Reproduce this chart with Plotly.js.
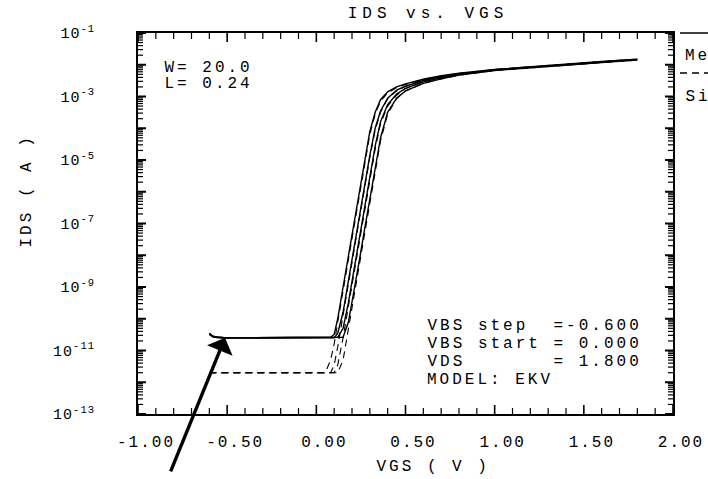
<!DOCTYPE html>
<html>
<head>
<meta charset="utf-8">
<script src="https://cdn.plot.ly/plotly-3.0.1.min.js"></script>
<style>
  html, body { margin: 0; padding: 0; background: #fff; }
  #chart { width: 708px; height: 479px; }
  .main-svg text { letter-spacing: 3px; }
  .main-svg .gtitle { letter-spacing: 5px; }
  .main-svg .xtick text { letter-spacing: 2px; }
  .main-svg .ytick text { letter-spacing: 1px; }
</style>
</head>
<body>
<div id="chart"></div>
<script>
// ---- data ----
const vgs = [-0.60,-0.58,-0.55,-0.50,-0.40,-0.30,-0.20,-0.10,0.00,0.05,0.08,0.10,
             0.12,0.15,0.18,0.21,0.24,0.27,0.30,0.33,0.36,0.40,0.45,0.50,
             0.60,0.70,0.80,1.00,1.20,1.40,1.60,1.80];

// measured IDS (A), VBS = 0, -0.6, -1.2, -1.8
const idsMeas0 = [3.5e-11,2.8e-11,2.6e-11,2.5e-11,2.5e-11,2.5e-11,2.5e-11,2.5e-11,2.5e-11,2.5e-11,2.6e-11,3.2e-11,
                  1.0e-10,1.0e-9,1.0e-8,1.0e-7,1.0e-6,1.0e-5,7.9e-5,3.2e-4,7.9e-4,1.4e-3,2.0e-3,2.5e-3,
                  3.5e-3,4.5e-3,5.4e-3,7.1e-3,8.7e-3,1.05e-2,1.26e-2,1.5e-2];
const idsMeas1 = [3.4e-11,2.8e-11,2.6e-11,2.5e-11,2.5e-11,2.5e-11,2.5e-11,2.5e-11,2.5e-11,2.5e-11,2.5e-11,2.5e-11,
                  3.5e-11,1.6e-10,1.6e-9,1.6e-8,1.6e-7,1.6e-6,1.4e-5,1.0e-4,3.5e-4,8.9e-4,1.6e-3,2.1e-3,
                  3.2e-3,4.2e-3,5.1e-3,6.9e-3,8.5e-3,1.02e-2,1.23e-2,1.48e-2];
const idsMeas2 = [3.3e-11,2.7e-11,2.6e-11,2.5e-11,2.5e-11,2.5e-11,2.5e-11,2.5e-11,2.5e-11,2.5e-11,2.5e-11,2.5e-11,
                  2.6e-11,5.0e-11,3.2e-10,3.2e-9,3.2e-8,3.2e-7,3.2e-6,2.8e-5,1.6e-4,5.6e-4,1.2e-3,1.8e-3,
                  2.9e-3,3.9e-3,4.9e-3,6.8e-3,8.3e-3,1.0e-2,1.2e-2,1.45e-2];
const idsMeas3 = [3.2e-11,2.7e-11,2.5e-11,2.5e-11,2.5e-11,2.5e-11,2.5e-11,2.5e-11,2.5e-11,2.5e-11,2.5e-11,2.5e-11,
                  2.5e-11,2.6e-11,7.9e-11,6.3e-10,6.3e-9,6.3e-8,6.3e-7,6.3e-6,5.0e-5,3.2e-4,8.9e-4,1.5e-3,
                  2.6e-3,3.6e-3,4.7e-3,6.6e-3,8.1e-3,9.8e-3,1.17e-2,1.41e-2];

// simulated IDS (A)
const idsSim0 = [2.0e-12,2.0e-12,2.0e-12,2.0e-12,2.0e-12,2.0e-12,2.0e-12,2.0e-12,2.0e-12,2.0e-12,5.0e-12,1.6e-11,
                 7.9e-11,7.9e-10,7.9e-9,7.9e-8,7.9e-7,7.9e-6,6.3e-5,2.8e-4,7.1e-4,1.3e-3,1.9e-3,2.4e-3,
                 3.5e-3,4.4e-3,5.3e-3,7.1e-3,8.7e-3,1.05e-2,1.26e-2,1.5e-2];
const idsSim1 = [2.0e-12,2.0e-12,2.0e-12,2.0e-12,2.0e-12,2.0e-12,2.0e-12,2.0e-12,2.0e-12,2.0e-12,2.0e-12,3.5e-12,
                 1.3e-11,1.3e-10,1.3e-9,1.3e-8,1.3e-7,1.3e-6,1.2e-5,8.9e-5,3.2e-4,8.5e-4,1.5e-3,2.1e-3,
                 3.2e-3,4.2e-3,5.1e-3,6.9e-3,8.5e-3,1.02e-2,1.23e-2,1.48e-2];
const idsSim2 = [2.0e-12,2.0e-12,2.0e-12,2.0e-12,2.0e-12,2.0e-12,2.0e-12,2.0e-12,2.0e-12,2.0e-12,2.0e-12,2.0e-12,
                 3.5e-12,2.5e-11,2.5e-10,2.5e-9,2.5e-8,2.5e-7,2.5e-6,2.2e-5,1.4e-4,5.0e-4,1.1e-3,1.8e-3,
                 2.9e-3,3.9e-3,4.9e-3,6.8e-3,8.3e-3,1.0e-2,1.2e-2,1.45e-2];
const idsSim3 = [2.0e-12,2.0e-12,2.0e-12,2.0e-12,2.0e-12,2.0e-12,2.0e-12,2.0e-12,2.0e-12,2.0e-12,2.0e-12,2.0e-12,
                 2.0e-12,5.0e-12,5.0e-11,5.0e-10,5.0e-9,5.0e-8,5.0e-7,5.0e-6,4.0e-5,2.8e-4,8.5e-4,1.5e-3,
                 2.6e-3,3.6e-3,4.7e-3,6.6e-3,8.1e-3,9.8e-3,1.17e-2,1.41e-2];

const xTickVals = [-1.0,-0.5,0.0,0.5,1.0,1.5,2.0];
const xTickText = ["-1.00","-0.50","0.00","0.50","1.00","1.50","2.00"];
const yTickVals = [1e-13,1e-12,1e-11,1e-10,1e-9,1e-8,1e-7,1e-6,1e-5,1e-4,1e-3,1e-2,1e-1];
const yTickText = ["10<sup>-13</sup>","","10<sup>-11</sup>","","10<sup>-9</sup>","","10<sup>-7</sup>","",
                   "10<sup>-5</sup>","","10<sup>-3</sup>","","10<sup>-1</sup>"];

const infoLines = ["VBS step\u00a0\u00a0=-0.600", "VBS start\u00a0=\u00a00.000",
                   "VDS\u00a0\u00a0\u00a0\u00a0\u00a0\u00a0\u00a0=\u00a01.800", "MODEL:\u00a0EKV"];
const sizeLines = ["W=\u00a020.0", "L=\u00a00.24"];
const legendNames = ["Measured", "Simulated"];

// ---- build ----
const FONT = "Liberation Mono, DejaVu Sans Mono, monospace";
const LS = 3; // CSS letter-spacing applied to annotation text
const PL = 138, PW = 535, PB = 414, PH = 381;
const px2x = (px) => (px - PL) / PW;
const px2y = (py) => (PB - py) / PH;
// left-anchored text: compensate for letter-spacing not being measured by the layout
const leftX = (px, txt) => px2x(px + txt.length * LS / 2);

const measSets = [idsMeas0, idsMeas1, idsMeas2, idsMeas3];
const simSets = [idsSim0, idsSim1, idsSim2, idsSim3];
const traces = [];
measSets.forEach(ys => traces.push({
  x: vgs, y: ys, type: 'scatter', mode: 'lines',
  line: {color: '#000', width: 1.4}, showlegend: false, hoverinfo: 'skip'
}));
simSets.forEach(ys => traces.push({
  x: vgs, y: ys, type: 'scatter', mode: 'lines',
  line: {color: '#000', width: 1.1, dash: '7px,5px'}, showlegend: false, hoverinfo: 'skip'
}));

// ---- inside tick marks on all four sides, drawn as line segments on the axes ----
const XPX = 3 / PW;      // VGS per pixel
const YDEC = 12 / PH;    // decades per pixel
function tickTrace(xs, ys, w) {
  return {x: xs, y: ys, type: 'scatter', mode: 'lines', line: {color: '#000', width: w},
          showlegend: false, hoverinfo: 'skip', connectgaps: false};
}
const xMajX = [], xMajY = [], xMinX = [], xMinY = [];
for (let i = 0; i <= 30; i++) {
  const xv = -1 + i * 0.1;
  const major = (i % 5 === 0);
  const f = Math.pow(10, (major ? 9 : 6) * YDEC);
  const X = major ? xMajX : xMinX, Y = major ? xMajY : xMinY;
  X.push(xv, xv, null, xv, xv, null);
  Y.push(1e-13, 1e-13 * f, null, 1e-1, 1e-1 / f, null);
}
const yMajX = [], yMajY = [], yMinX = [], yMinY = [];
for (let e = -13; e <= -1; e++) {
  for (let m = 1; m <= 9; m++) {
    if (e === -1 && m > 1) break;
    const yv = m * Math.pow(10, e);
    const major = (m === 1);
    const len = (major ? 8 : 5) * XPX;
    const X = major ? yMajX : yMinX, Y = major ? yMajY : yMinY;
    X.push(-1, -1 + len, null, 2, 2 - len, null);
    Y.push(yv, yv, null, yv, yv, null);
  }
}
traces.push(tickTrace(xMajX, xMajY, 1.6));
traces.push(tickTrace(xMinX, xMinY, 1.2));
traces.push(tickTrace(yMajX, yMajY, 2.0));
traces.push(tickTrace(yMinX, yMinY, 1.2));

// legend box fragments at right edge
const shapes = [
  {type: 'line', xref: 'paper', yref: 'paper', x0: px2x(680), x1: px2x(720), y0: 1.0, y1: 1.0,
   line: {color: '#000', width: 1.5}},
  {type: 'line', xref: 'paper', yref: 'paper', x0: px2x(680), x1: px2x(720), y0: px2y(73), y1: px2y(73),
   line: {color: '#000', width: 1.5, dash: '7px,5px'}}
];

const annotations = [];
const infoPy = [326, 344, 362, 380];
infoLines.forEach((t, i) => annotations.push({
  xref: 'paper', yref: 'paper', x: leftX(425, t), y: px2y(infoPy[i]), xanchor: 'left', yanchor: 'middle',
  text: t, showarrow: false, font: {family: FONT, size: 16, color: '#000'}
}));
const sizePy = [68, 84];
sizeLines.forEach((t, i) => annotations.push({
  xref: 'paper', yref: 'paper', x: leftX(162, t), y: px2y(sizePy[i]), xanchor: 'left', yanchor: 'middle',
  text: t, showarrow: false, font: {family: FONT, size: 16, color: '#000'}
}));
const legPy = [56, 97];
legendNames.forEach((t, i) => annotations.push({
  xref: 'paper', yref: 'paper', x: leftX(683, t), y: px2y(legPy[i]), xanchor: 'left', yanchor: 'middle',
  text: t, showarrow: false, font: {family: FONT, size: 16, color: '#000'}
}));
// axis titles
annotations.push({
  xref: 'paper', yref: 'paper', x: px2x(433), y: px2y(467),
  xanchor: 'center', yanchor: 'middle', text: 'VGS\u00a0(\u00a0V\u00a0)', showarrow: false,
  font: {family: FONT, size: 16, color: '#000'}
});
annotations.push({
  xref: 'paper', yref: 'paper', x: px2x(27), y: px2y(191),
  xanchor: 'center', yanchor: 'middle', textangle: -90, text: 'IDS\u00a0(\u00a0A\u00a0)', showarrow: false,
  font: {family: FONT, size: 16, color: '#000'}
});
// arrow pointing at the measured leakage floor
annotations.push({
  x: -0.512, y: -10.6, xref: 'x', yref: 'y', text: '', showarrow: true,
  ax: -55, ay: 135, arrowhead: 1, arrowsize: 1.35, arrowwidth: 3.4, arrowcolor: '#000'
});

const layout = {
  width: 708, height: 479,
  margin: {l: 138, r: 35, t: 33, b: 65, pad: 0},
  paper_bgcolor: '#fff', plot_bgcolor: '#fff',
  font: {family: FONT, size: 16, color: '#000'},
  title: {text: 'IDS vs. VGS', font: {family: FONT, size: 16, color: '#000'},
          x: 0.6045, xref: 'container', xanchor: 'center', y: 0.975, yref: 'container', yanchor: 'middle'},
  showlegend: false,
  xaxis: {
    range: [-1, 2], tickmode: 'array', tickvals: xTickVals, ticktext: xTickText,
    ticks: '', showline: true, linecolor: '#000', linewidth: 2, mirror: true,
    showgrid: false, zeroline: false, ticklabelstandoff: 12, ticklabelshift: 8,
    tickfont: {family: FONT, size: 16, color: '#000'}
  },
  yaxis: {
    type: 'log', range: [-13, -1], tickmode: 'array', tickvals: yTickVals, ticktext: yTickText,
    ticks: '', showline: true, linecolor: '#000', linewidth: 2, mirror: true,
    showgrid: false, zeroline: false, ticklabelstandoff: 38,
    tickfont: {family: FONT, size: 15, color: '#000'}
  },
  shapes: shapes,
  annotations: annotations
};

Plotly.newPlot('chart', traces, layout, {displayModeBar: false});
</script>
</body>
</html>
